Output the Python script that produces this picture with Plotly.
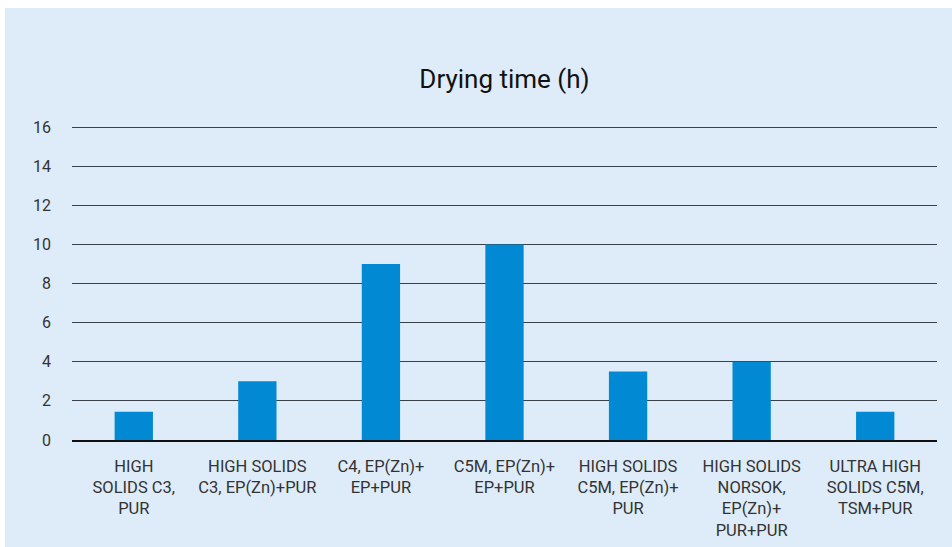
import plotly.graph_objects as go

categories = [
    "HIGH<br>SOLIDS C3,<br>PUR",
    "HIGH SOLIDS<br>C3, EP(Zn)+PUR",
    "C4, EP(Zn)+<br>EP+PUR",
    "C5M, EP(Zn)+<br>EP+PUR",
    "HIGH SOLIDS<br>C5M, EP(Zn)+<br>PUR",
    "HIGH SOLIDS<br>NORSOK,<br>EP(Zn)+<br>PUR+PUR",
    "ULTRA HIGH<br>SOLIDS C5M,<br>TSM+PUR",
]
drying_time = [1.45, 3, 9, 10, 3.5, 4, 1.45]
y_ticks = [0, 2, 4, 6, 8, 10, 12, 14, 16]
title_text = "Drying time (h)"

W, H = 952, 547
ml, mr, mt, mb = 72, 15, 124, 107
pw, ph = W - ml - mr, H - mt - mb
ytop = 16 * ph / (ph - 3)

fig = go.Figure(go.Bar(x=categories, y=drying_time, marker_color="#0289d3",
                       marker_line_width=0))

bg = "#deecf9"
fig.add_shape(type="rect", xref="paper", yref="paper", layer="below",
              x0=(5 - ml) / pw, x1=(W + 10 - ml) / pw,
              y0=-(mb + 10) / ph, y1=(H - mb - 8) / ph,
              fillcolor=bg, line_width=0)

fig.update_layout(
    width=W, height=H,
    margin=dict(l=ml, r=mr, t=mt, b=mb, autoexpand=False),
    paper_bgcolor="white", plot_bgcolor=bg,
    bargap=0.69,
    showlegend=False,
    font=dict(family="Roboto", color="#333333"),
    title=dict(text=title_text, x=0.5, xref="paper", xanchor="center",
               y=1 - 79 / H, yanchor="middle",
               font=dict(size=26, color="#111111", family="Roboto")),
)
fig.update_xaxes(showgrid=False, showline=True, linecolor="#111111", linewidth=1.5,
                 tickfont=dict(size=16.5, color="#333333"), ticks="",
                 ticklabelstandoff=10, automargin=False)
fig.update_yaxes(range=[0, ytop], tickvals=y_ticks, showgrid=True,
                 gridcolor="#3a4048", gridwidth=1, zeroline=False,
                 showline=False, tickfont=dict(size=16, color="#333333"),
                 ticklabelstandoff=20, automargin=False)

fig.write_html("out.html", config={"displayModeBar": False},
               post_script="document.body.style.margin='0px';")
